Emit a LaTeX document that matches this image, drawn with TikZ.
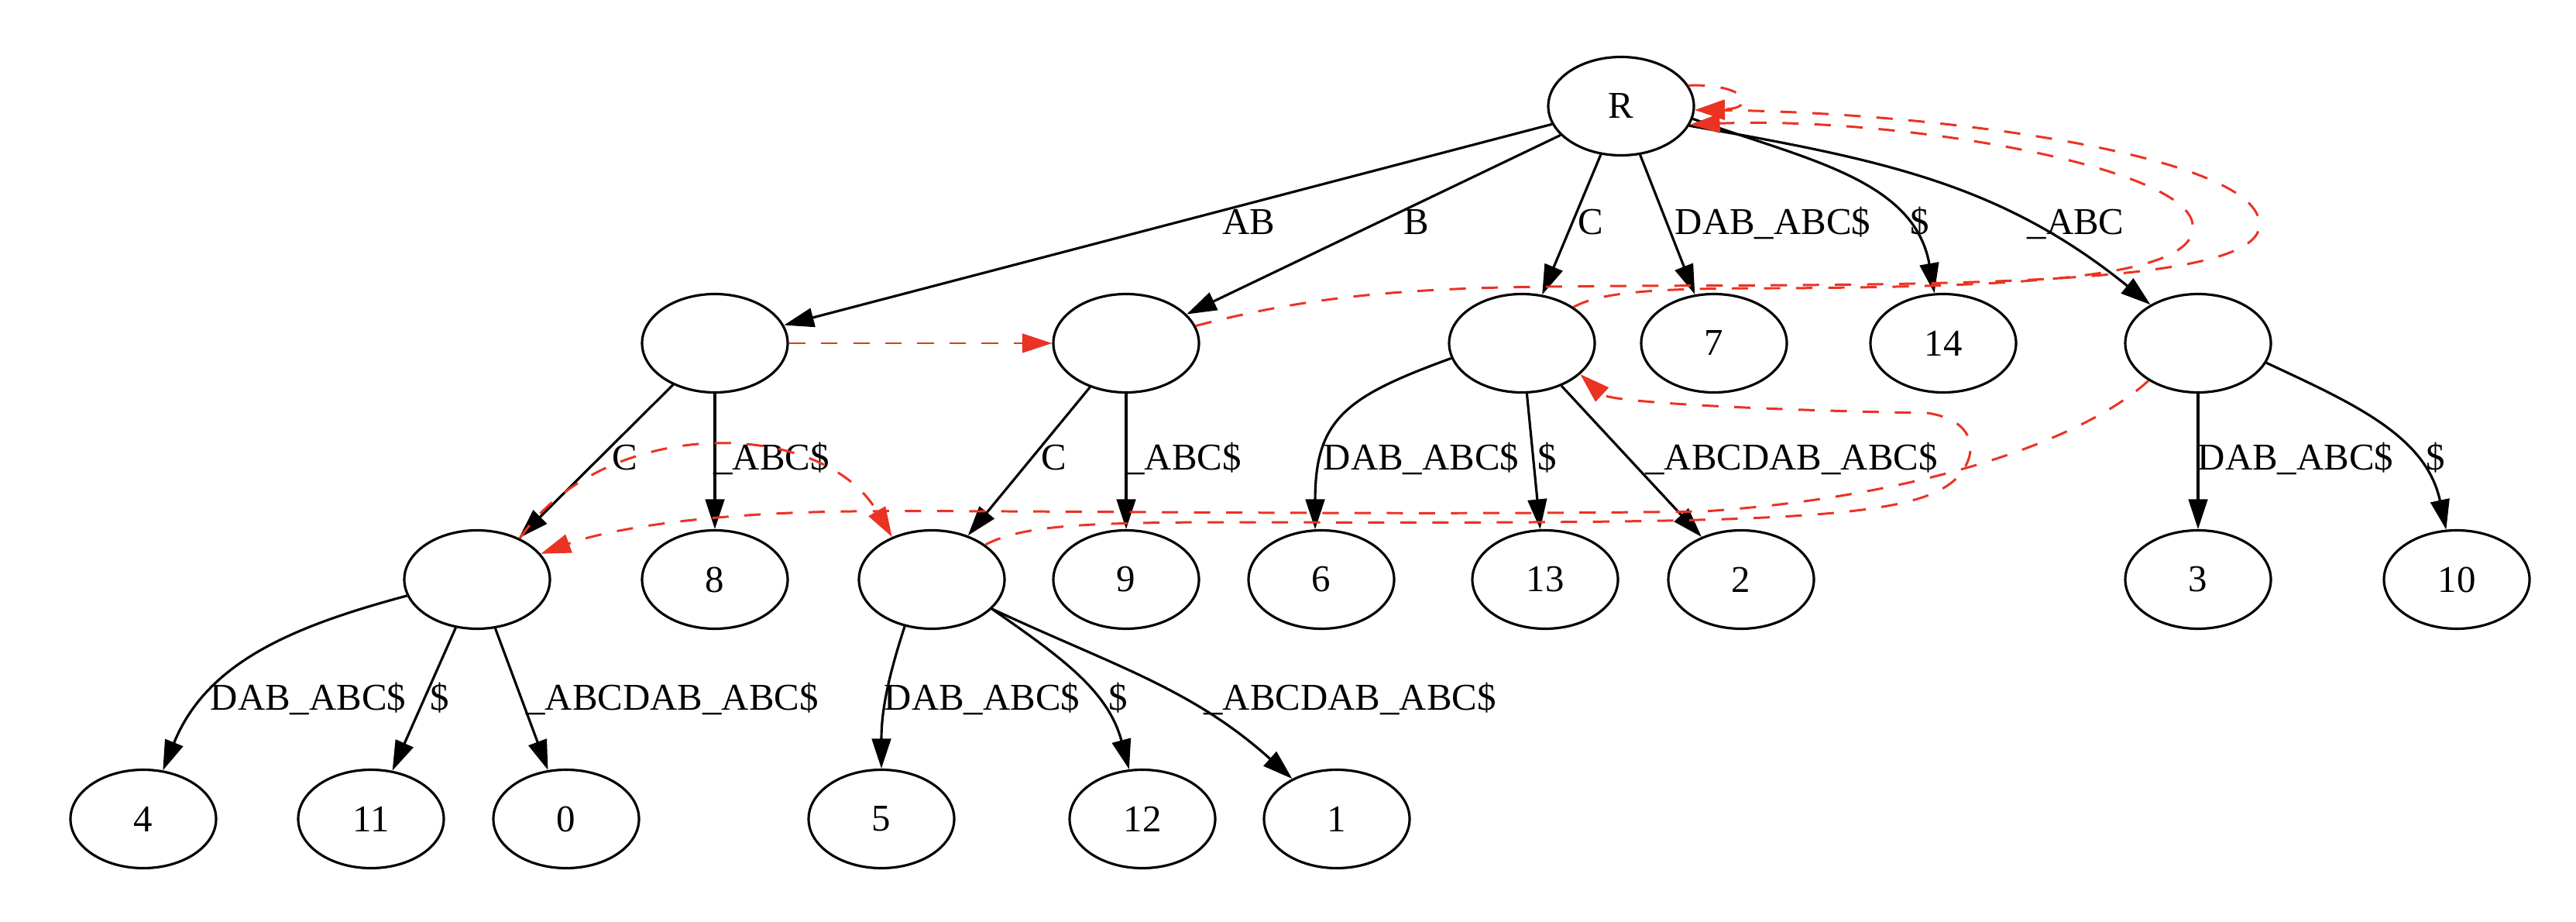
\documentclass[tikz,border=0pt]{standalone}
\usepackage{fontspec}
\setmainfont{Liberation Serif}
\usetikzlibrary{shapes.geometric,arrows.meta}
\definecolor{linkred}{RGB}{234,51,35}
\tikzset{
  st/.style={draw,ellipse,line width=0.9pt,minimum width=1.88cm,minimum height=1.27cm,inner sep=0pt,font=\fontsize{13.9}{16}\selectfont},
  tr/.style={draw,line width=0.9pt,-{Triangle[length=11pt,width=7pt]}},
  sl/.style={draw=linkred,line width=0.85pt,dash pattern=on 6pt off 5.8pt,-{Triangle[length=11pt,width=7pt]}},
  lb/.style={font=\fontsize{13.9}{16}\selectfont,inner sep=0pt,anchor=base}
}
\begin{document}
\begin{tikzpicture}
\useasboundingbox (0,0) rectangle (33.26,-11.90);
%root
\node[st] (R) at (20.93,-1.37) {R};
%level 1
\node[st] (nAB) at (9.23,-4.43) {};
\node[st] (nB) at (14.54,-4.43) {};
\node[st] (nC) at (19.65,-4.43) {};
\node[st] (n7) at (22.13,-4.43) {7};
\node[st] (n14) at (25.09,-4.43) {14};
\node[st] (nU) at (28.38,-4.43) {};
%level 2
\node[st] (nABC) at (6.16,-7.48) {};
\node[st] (n8) at (9.23,-7.48) {8};
\node[st] (nBC) at (12.03,-7.48) {};
\node[st] (n9) at (14.54,-7.48) {9};
\node[st] (n6) at (17.06,-7.48) {6};
\node[st] (n13) at (19.95,-7.48) {13};
\node[st] (n2) at (22.48,-7.48) {2};
\node[st] (n3) at (28.38,-7.48) {3};
\node[st] (n10) at (31.72,-7.48) {10};
%level 3
\node[st] (n4) at (1.85,-10.57) {4};
\node[st] (n11) at (4.79,-10.57) {11};
\node[st] (n0) at (7.31,-10.57) {0};
\node[st] (n5) at (11.38,-10.57) {5};
\node[st] (n12) at (14.75,-10.57) {12};
\node[st] (n1) at (17.26,-10.57) {1};

%edges from root
\draw[tr] (R) -- (nAB) node[lb] (lAB) at (16.12,-3.03) {AB};
\draw[tr] (R) -- (nB) node[lb] (lB) at (18.29,-3.03) {B};
\draw[tr] (R) -- (nC) node[lb] (lC) at (20.54,-3.03) {C};
\draw[tr] (R) -- (n7) node[lb] (l7) at (22.89,-3.03) {DAB\_ABC\$};
\draw[tr] (R.-10) to[out=-20,in=100] (n14) node[lb] (l14) at (24.79,-3.03) {\$};
\draw[tr] (R.-16) to[out=-10,in=141] (nU) node[lb] (lU) at (26.80,-3.03) {\_ABC};
%edges level 1
\draw[tr] (nAB) -- (nABC) node[lb] (lAC) at (8.07,-6.07) {C};
\draw[tr] (nAB) -- (n8) node[lb] (l8) at (9.96,-6.07) {\_ABC\$};
\draw[tr] (nB) -- (nBC) node[lb] (lBC) at (13.61,-6.07) {C};
\draw[tr] (nB) -- (n9) node[lb] (l9) at (15.28,-6.07) {\_ABC\$};
\draw[tr] (nC.192) to[out=200,in=90,looseness=1.3] (n6.97) node[lb] (l6) at (18.35,-6.07) {DAB\_ABC\$};
\draw[tr] (nC) -- (n13) node[lb] (l13) at (19.98,-6.07) {\$};
\draw[tr] (nC) -- (n2) node[lb] (l2) at (23.13,-6.07) {\_ABCDAB\_ABC\$};
\draw[tr] (nU) -- (n3) node[lb] (l3) at (29.64,-6.07) {DAB\_ABC\$};
\draw[tr] (nU.-16) to[out=-25,in=102] (n10) node[lb] (l10) at (31.45,-6.07) {\$};
%edges level 2
\draw[tr] (nABC.193) to[out=195,in=68] (n4) node[lb] (l4) at (3.98,-9.16) {DAB\_ABC\$};
\draw[tr] (nABC) -- (n11) node[lb] (l11) at (5.68,-9.16) {\$};
\draw[tr] (nABC) -- (n0) node[lb] (l0) at (8.68,-9.16) {\_ABCDAB\_ABC\$};
\draw[tr] (nBC.240) to[out=252,in=90] (n5) node[lb] (l5) at (12.68,-9.16) {DAB\_ABC\$};
\draw[tr] (nBC.-26) to[out=-35,in=105] (n12) node[lb] (l12) at (14.44,-9.16) {\$};
\draw[tr] (nBC.-26) to[out=-25,in=138] (n1) node[lb] (l1) at (17.43,-9.16) {\_ABCDAB\_ABC\$};

%suffix links
\draw[sl] (R.17) .. controls +(0.75,0.03) and +(0.82,0.02) .. (R.-3);
\draw[sl] (nAB) -- (nB);
\draw[sl] (nB.14) .. controls (16.8,-3.85) and (18.0,-3.72) .. (20.0,-3.70)
  .. controls (24.0,-3.65) and (29.3,-3.80) .. (29.17,-2.87)
  .. controls (29.1,-2.0) and (25.0,-1.45) .. (R.-3);
\draw[sl] (nC.35) .. controls (20.7,-3.75) and (21.5,-3.72) .. (23.0,-3.72)
  .. controls (26.0,-3.70) and (28.4,-3.60) .. (28.31,-2.90)
  .. controls (28.25,-2.15) and (24.5,-1.50) .. (R.-15);
\draw[sl] (nABC.44) .. controls (7.80,-5.37) and (10.60,-5.37) .. (nBC.133);
\draw[sl] (nBC.33) .. controls (13.20,-6.78) and (14.00,-6.74) .. (16.00,-6.74)
  .. controls (23.00,-6.76) and (24.80,-6.72) .. (25.30,-6.13)
  .. controls (25.55,-5.83) and (25.50,-5.42) .. (24.88,-5.33)
  .. controls (23.00,-5.30) and (20.80,-5.20) .. (nC.-28);
\draw[sl] (nU.217) .. controls (27.00,-5.60) and (25.00,-6.40) .. (22.00,-6.60)
  .. controls (18.00,-6.66) and (13.00,-6.58) .. (11.00,-6.60)
  .. controls (9.00,-6.62) and (7.80,-6.85) .. (nABC.22);
\end{tikzpicture}
\end{document}
